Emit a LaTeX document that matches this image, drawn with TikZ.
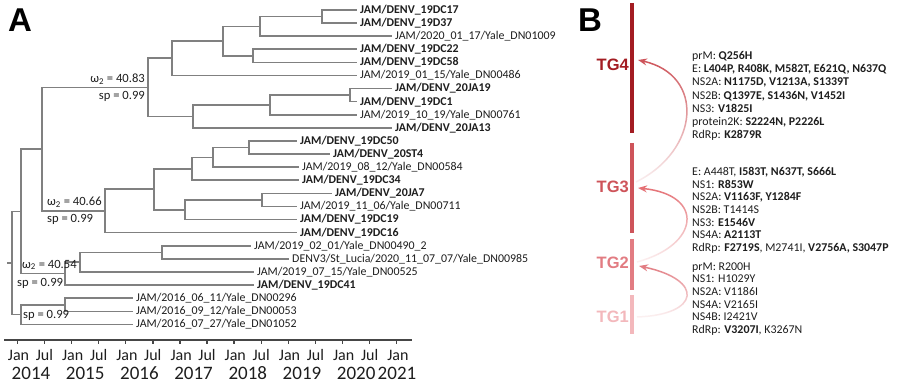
\documentclass[tikz,border=0pt]{standalone}
\usepackage{fontspec}
\setmainfont{Carlito}
\newfontfamily\headfont{Liberation Sans}
\usetikzlibrary{arrows.meta,fadings}
\definecolor{treegray}{RGB}{128,128,128}
\definecolor{axisgray}{RGB}{70,70,70}
\definecolor{darktext}{RGB}{30,30,30}
\definecolor{tgfour}{RGB}{163,28,34}
\definecolor{tgthree}{RGB}{206,84,90}
\definecolor{tgtwo}{RGB}{226,124,130}
\definecolor{tgone}{RGB}{243,184,188}
\tikzfading[name=fadeup, top color=transparent!0, bottom color=transparent!92]

\begin{document}
\begin{tikzpicture}[x=1pt,y=-1pt,
  branch/.style={draw=treegray,line width=1.6pt},
  tip/.style={anchor=west,inner xsep=3pt,inner ysep=0pt,text=darktext,font=\fontsize{11.9}{12}\selectfont},
  tipb/.style={tip,font=\fontsize{11.9}{12}\selectfont\bfseries},
  supp/.style={inner sep=0pt,text=darktext,font=\fontsize{12.6}{13}\selectfont},
  ticklab/.style={inner sep=0pt,text=darktext,font=\fontsize{16}{17}\selectfont},
  yearlab/.style={inner sep=0pt,text=darktext,font=\fontsize{19}{20}\selectfont},
  panel/.style={inner sep=0pt,font=\headfont\fontsize{33}{34}\selectfont\bfseries},
  tglab/.style={anchor=east,inner sep=0pt,font=\headfont\fontsize{16.5}{17}\selectfont\bfseries},
  tgbar/.style={line width=3.3pt},
  tgarrow/.style={-{Stealth[length=9pt,width=7pt]},line width=1.5pt,path fading=fadeup},
  muts/.style={anchor=north west,align=left,inner sep=0pt,text=darktext,font=\fontsize{11.9}{12.7}\selectfont}]
\useasboundingbox (0,0) rectangle (900,390);
\fill[white] (0,0) rectangle (900,390);

\node[panel] (pa) at (20,20) {A};
\node[panel] (pb) at (590,20) {B};

% tips
\node[tipb] (t1) at (357,10) {JAM/DENV\_19DC17};
\node[tipb] (t2) at (357,23.1) {JAM/DENV\_19D37};
\node[tip] (t3) at (392,36.2) {JAM/2020\_01\_17/Yale\_DN01009};
\node[tipb] (t4) at (357,49.3) {JAM/DENV\_19DC22};
\node[tipb] (t5) at (357,62.4) {JAM/DENV\_19DC58};
\node[tip] (t6) at (357,75.5) {JAM/2019\_01\_15/Yale\_DN00486};
\node[tipb] (t7) at (392,88.6) {JAM/DENV\_20JA19};
\node[tipb] (t8) at (357,101.7) {JAM/DENV\_19DC1};
\node[tip] (t9) at (357,114.8) {JAM/2019\_10\_19/Yale\_DN00761};
\node[tipb] (t10) at (392,127.9) {JAM/DENV\_20JA13};
\node[tipb] (t11) at (297,141) {JAM/DENV\_19DC50};
\node[tipb] (t12) at (330,154.1) {JAM/DENV\_20ST4};
\node[tip] (t13) at (299,167.2) {JAM/2019\_08\_12/Yale\_DN00584};
\node[tipb] (t14) at (299,180.3) {JAM/DENV\_19DC34};
\node[tipb] (t15) at (332,193.4) {JAM/DENV\_20JA7};
\node[tip] (t16) at (297,206.5) {JAM/2019\_11\_06/Yale\_DN00711};
\node[tipb] (t17) at (297,219.6) {JAM/DENV\_19DC19};
\node[tipb] (t18) at (297,232.7) {JAM/DENV\_19DC16};
\node[tip] (t19) at (251,245.8) {JAM/2019\_02\_01/Yale\_DN00490\_2};
\node[tip] (t20) at (289,258.9) {DENV3/St\_Lucia/2020\_11\_07\_07/Yale\_DN00985};
\node[tip] (t21) at (254,272) {JAM/2019\_07\_15/Yale\_DN00525};
\node[tipb] (t22) at (254,285.1) {JAM/DENV\_19DC41};
\node[tip] (t23) at (133,298.2) {JAM/2016\_06\_11/Yale\_DN00296};
\node[tip] (t24) at (133,311.3) {JAM/2016\_09\_12/Yale\_DN00053};
\node[tip] (t25) at (133,324.4) {JAM/2016\_07\_27/Yale\_DN01052};

% internal nodes
\coordinate (na) at (322,16.55);
\coordinate (nb) at (260,26.4);
\coordinate (nc) at (253,55.85);
\coordinate (nd) at (223,41.1);
\coordinate (ne) at (172,58.3);
\coordinate (ng) at (350,95.15);
\coordinate (nf) at (270,105);
\coordinate (nh) at (193,116.4);
\coordinate (ni) at (148,87.4);
\coordinate (no) at (249,147.55);
\coordinate (nn) at (213,157.4);
\coordinate (nm) at (192,168.8);
\coordinate (nq) at (262,199.95);
\coordinate (np) at (185,209.8);
\coordinate (nl) at (154,189.3);
\coordinate (nj) at (105,211);
\coordinate (nk) at (42,149.2);
\coordinate (nw) at (162,252.35);
\coordinate (nx) at (80,262.2);
\coordinate (nv) at (65,273.6);
\coordinate (nu) at (21,211.4);
\coordinate (ns) at (65,304.75);
\coordinate (nt) at (21,314.6);
\coordinate (nr) at (12,263);
\coordinate (root) at (7,263);

\draw[branch] (na) |- (t1.west) (na) |- (t2.west)
  (nb) |- (na) (nb) |- (t3.west)
  (nc) |- (t4.west) (nc) |- (t5.west)
  (nd) |- (nb) (nd) |- (nc)
  (ne) |- (nd) (ne) |- (t6.west)
  (ng) |- (t7.west) (ng) |- (t8.west)
  (nf) |- (ng) (nf) |- (t9.west)
  (nh) |- (nf) (nh) |- (t10.west)
  (ni) |- (ne) (ni) |- (nh)
  (no) |- (t11.west) (no) |- (t12.west)
  (nn) |- (no) (nn) |- (t13.west)
  (nm) |- (nn) (nm) |- (t14.west)
  (nq) |- (t15.west) (nq) |- (t16.west)
  (np) |- (nq) (np) |- (t17.west)
  (nl) |- (nm) (nl) |- (np)
  (nj) |- (nl) (nj) |- (t18.west)
  (nk) |- (ni) (nk) |- (nj)
  (nw) |- (t19.west) (nw) |- (t20.west)
  (nx) |- (nw) (nx) |- (t21.west)
  (nv) |- (nx) (nv) |- (t22.west)
  (nu) |- (nk) (nu) |- (nv)
  (ns) |- (t23.west) (ns) |- (t24.west)
  (nt) |- (ns) (nt) |- (t25.west)
  (nr) |- (nu) (nr) |- (nt)
  (root) -- (nr);

% support values
\node[supp,anchor=east] (w1) at (145,79) {ω\textsubscript{2} = 40.83};
\node[supp,anchor=east] (s1) at (145,96) {sp = 0.99};
\node[supp,anchor=west] (w2) at (47,202) {ω\textsubscript{2} = 40.66};
\node[supp,anchor=west] (s2) at (47,219) {sp = 0.99};
\node[supp,anchor=west] (w3) at (22,265) {ω\textsubscript{2} = 40.54};
\node[supp,anchor=west] (s3) at (17,283) {sp = 0.99};
\node[supp,anchor=west] (s4) at (23,315) {sp = 0.99};

% time axis
\coordinate (ax0) at (4,340);
\coordinate (ax1) at (412,340);
\draw[draw=axisgray,line width=1.4pt] (ax0) -- (ax1);
\foreach \k in {0,...,14}
  \draw[draw=axisgray,line width=1.4pt] (17.3+\k*27.1,340) -- ++(0,4);
\foreach \k in {0,...,7}
  \node[ticklab] (jan\k) at (18.5+\k*54.2,355) {Jan};
\foreach \k in {0,...,6}
  \node[ticklab] (jul\k) at (44.4+\k*54.2,355) {Jul};
\foreach \k/\yr in {0/2014,1/2015,2/2016,3/2017,4/2018,5/2019,6/2020}
  \node[yearlab] (yr\k) at (31+\k*54.2,373) {\yr};
\node[yearlab] (yr7) at (397,373) {2021};

% panel B
\draw[tgbar,tgfour] (632,3) -- (632,133);
\draw[tgbar,tgthree] (632,143) -- (632,233);
\draw[tgbar,tgtwo] (632,239) -- (632,290);
\draw[tgbar,tgone] (632,295) -- (632,334);

\node[tglab,text=tgfour] (tg4) at (629,65) {TG4};
\node[tglab,text=tgthree] (tg3) at (629,187) {TG3};
\node[tglab,text=tgtwo] (tg2) at (629,263) {TG2};
\node[tglab,text=tgone] (tg1) at (629,317) {TG1};

\coordinate (a4) at (638,60);
\coordinate (b3) at (636,182);
\coordinate (a3) at (638,188);
\coordinate (b2) at (637,262);
\coordinate (a2) at (639,266);
\coordinate (b1) at (637,317);
\draw[tgarrow,draw=tgthree] (b3) .. controls (700,150) and (705,75) .. (a4);
\draw[tgarrow,draw=tgtwo!90!red] (b2) .. controls (700,245) and (705,195) .. (a3);
\draw[tgarrow,draw=tgtwo] (b1) .. controls (700,315) and (705,280) .. (a2);

\node[muts,font=\fontsize{11.9}{13.2}\selectfont] (m4) at (692,51.2) {prM: \textbf{Q256H}\\
  E: \textbf{L404P, R408K, M582T, E621Q, N637Q}\\
  NS2A: \textbf{N1175D, V1213A, S1339T}\\
  NS2B: \textbf{Q1397E, S1436N, V1452I}\\
  NS3: \textbf{V1825I}\\
  protein2K: \textbf{S2224N, P2226L}\\
  RdRp: \textbf{K2879R}};
\node[muts] (m3) at (692,166.9) {E: A448T, \textbf{I583T, N637T, S666L}\\
  NS1: \textbf{R853W}\\
  NS2A: \textbf{V1163F, Y1284F}\\
  NS2B: T1414S\\
  NS3: \textbf{E1546V}\\
  NS4A: \textbf{A2113T}\\
  RdRp: \textbf{F2719S}, M2741I, \textbf{V2756A, S3047P}};
\node[muts] (m2) at (692,262.2) {prM: R200H\\
  NS1: H1029Y\\
  NS2A: V1186I\\
  NS4A: V2165I\\
  NS4B: I2421V\\
  RdRp: \textbf{V3207I}, K3267N};
\end{tikzpicture}
\end{document}
